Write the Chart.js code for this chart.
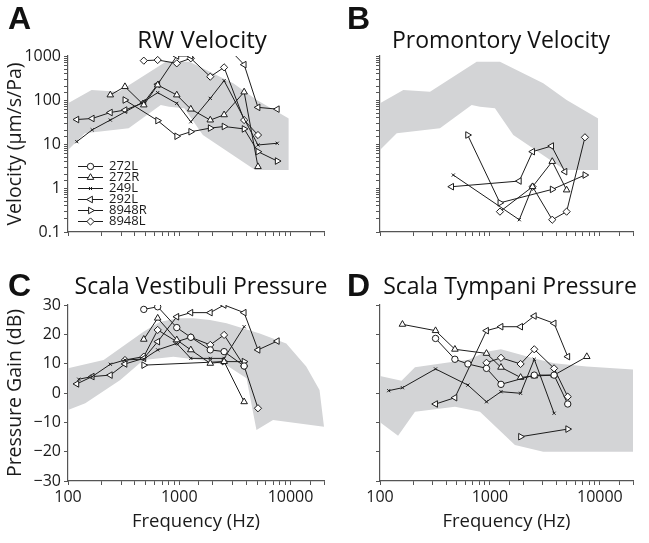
<!DOCTYPE html>
<html><head><meta charset="utf-8">
<script src="https://cdn.jsdelivr.net/npm/chart.js@4.4.1/dist/chart.umd.min.js"></script>
<style>
html,body{margin:0;padding:0;background:#fff;}
#wrap{position:relative;width:649px;height:543px;overflow:hidden;background:#fff;}
canvas{position:absolute;}
.lt{position:absolute;font-family:"Liberation Sans",Arial,sans-serif;font-weight:bold;font-size:32px;line-height:1;color:#111;}
.tt{position:absolute;font-family:"Open Sans",sans-serif;font-size:23px;line-height:1;color:#111;transform:translate(-50%,-50%);white-space:nowrap;}
</style></head>
<body><div id="wrap">
<canvas id="cA" width="345" height="245" style="left:0;top:0"></canvas>
<canvas id="cB" width="304" height="245" style="left:345px;top:0"></canvas>
<canvas id="cC" width="345" height="293" style="left:0;top:250px"></canvas>
<canvas id="cD" width="304" height="293" style="left:345px;top:250px"></canvas>
<div class="lt" style="left:8px;top:2px">A</div>
<div class="lt" style="left:347px;top:2px">B</div>
<div class="lt" style="left:8px;top:269px">C</div>
<div class="lt" style="left:347px;top:269px">D</div>
<div class="tt" style="left:202px;top:39px;font-size:24px">RW Velocity</div>
<div class="tt" style="left:501px;top:39px">Promontory Velocity</div>
<div class="tt" style="left:201px;top:285px">Scala Vestibuli Pressure</div>
<div class="tt" style="left:510px;top:285px">Scala Tympani Pressure</div>
</div>
<script>
// ---------- data: [frequency Hz, value] ----------
const seriesNames = ['272L','272R','249L','292L','8948R','8948L'];
const freqTickLabels = [100, 1000, 10000];
const dbTicks = [-30, -20, -10, 0, 10, 20, 30];

// velocity band (shared by RW and promontory panels), µm/s/Pa
const velBandUpper = [[100,84],[163,169],[285,155],[757,741],[1233,741],[3053,240],[4980,100],[9650,38]];
const velBandLower = [[100,7.3],[142,17.5],[351,22.8],[682,77],[811,70],[1110,65],[1630,16],[4808,2.56],[9650,2.56]];

// A: RW velocity
const rw_272L = [];
const rw_272R = [[240,130],[325,201],[480,77],[640,219],[950,130],[1270,62],[1900,35],[2530,46],[3830,152],[5100,3.05]];
const rw_249L = [[120,11.3],[165,21],[240,35],[480,92],[640,147],[950,84],[1270,32],[1900,109],[2530,275],[5100,9.5],[7600,10.4]];
const rw_292L = [[120,36],[165,38],[240,52],[325,59],[480,87],[640,227],[950,1000],[1270,1000],[1900,1233],[2530,1874],[3830,636],[5100,68],[7600,62]];
const rw_8948R = [[325,100],[640,34],[950,15],[1270,19],[1900,23],[2530,25],[3830,22],[5100,6.7],[7600,4.1]];
const rw_8948L = [[480,783],[640,811],[950,681],[1270,885],[1900,339],[2530,552],[3830,35],[5100,16]];

// B: promontory velocity
const pv_272L = [];
const pv_272R = [[2442,1.07],[3686,4.0],[4980,0.9]];
const pv_249L = [[464,1.97],[1848,0.19],[2442,1.07]];
const pv_292L = [[448,1.07],[1848,1.44],[2442,6.7],[3635,9.0],[4806,2.35]];
const pv_8948R = [[627,16],[1233,0.46],[3686,0.93],[7310,1.97]];
const pv_8948L = [[1233,0.29],[2442,1.07],[3686,0.19],[4980,0.29],[7310,14.2]];

// C: scala vestibuli pressure gain, dB
const svBandUpper = [[100,8.4],[209,11.25],[477,20.9],[673,24.3],[982,25.5],[1337,25.5],[1886,24.9],[2662,23.8],[5290,20.3],[9161,16.9],[13840,9.0],[18230,1.0],[20000,-11.5]];
const svBandLower = [[100,-5.8],[143,-3.5],[295,4.4],[477,11.25],[886,12.4],[1535,11.25],[2662,9.5],[4021,5.0],[4943,-12.6],[6962,-9.2],[20000,-11.5]];
const sv_272L = [[480,28.5],[640,29.4],[950,22.3],[1270,19.0],[1900,14.7],[2530,14.1],[3830,9.2]];
const sv_272R = [[480,18.3],[640,25.5],[950,18.1],[1270,14.7],[1900,10.1],[2530,10.7],[3830,-3.0]];
const sv_249L = [[125,4.7],[165,5.6],[240,9.8],[325,11.25],[480,11.6],[640,14.7],[950,16.9],[1270,11.8],[1900,11.8],[2530,11.8],[3830,22.6]];
const sv_292L = [[120,3.1],[165,5.6],[240,6.1],[325,9.9],[480,11.8],[640,17.5],[950,26.0],[1270,27.4],[1900,27.4],[2530,30],[3830,27.4],[5100,14.7],[7600,17.7]];
const sv_8948R = [[480,9.5],[2530,10.7],[3830,10.7]];
const sv_8948L = [[325,11.25],[480,12.4],[640,21.5],[950,17.5],[1270,19.0],[1900,16.4],[2530,19.8],[3830,9.2],[5100,-5.2]];

// D: scala tympani pressure gain, dB
const stBandUpper = [[100,5.8],[157,4.2],[208,8.75],[481,10.7],[627,11.25],[933,14.1],[1259,14.9],[1912,13.0],[2528,11.8],[3845,10.1],[7570,9.0],[20000,8.0]];
const stBandLower = [[100,-10],[146,-14.6],[208,-6.4],[481,-4.7],[811,-6.4],[1687,-17.7],[3053,-20],[20000,-20]];
const st_272L = [[320,18.6],[480,11.5],[630,9.9],[930,8.4],[1260,2.95],[2530,6.1],[3830,6.1],[5100,-3.75]];
const st_272R = [[160,23.4],[320,21.25],[480,14.9],[930,13.5],[1260,8.75],[1900,5.3],[2530,5.8],[3830,6.1],[7600,12.4]];
const st_249L = [[120,0.8],[160,1.8],[320,8.2],[630,2.7],[930,-3.0],[1260,0.45],[1900,-0.1],[2530,11.5],[3830,-6.9]];
const st_292L = [[320,-3.75],[480,-1.6],[930,21.25],[1260,22.6],[1900,22.6],[2530,26.25],[3830,23.75],[5100,12.4]];
const st_8948R = [[1900,-14.9],[5100,-12.3]];
const st_8948L = [[930,10.3],[1260,12.0],[1900,9.9],[2530,14.9],[3830,8.4],[5100,-1.25]];

// ---------- styling ----------
const LINE = '#1c1c1c';
const AXIS = '#555555';
const TXT = '#1a1a1a';
const BAND = '#d3d4d6';
const FONT = '"Open Sans", "Noto Sans", sans-serif';
const STYLE = {
  '272L': {pointStyle:'circle', rotation:0, radius:3.2},
  '272R': {pointStyle:'triangle', rotation:0, radius:3.8},
  '249L': {pointStyle:'crossRot', rotation:0, radius:2.2},
  '292L': {pointStyle:'triangle', rotation:-90, radius:3.8},
  '8948R': {pointStyle:'triangle', rotation:90, radius:3.8},
  '8948L': {pointStyle:'rectRot', rotation:0, radius:3.6}
};
const toXY = arr => arr.map(p => ({x:p[0], y:p[1]}));

function seriesDS(name, pairs) {
  const s = STYLE[name];
  return {label:name, data:toXY(pairs), borderColor:LINE, borderWidth:1,
    pointStyle:s.pointStyle, pointRotation:s.rotation, pointRadius:s.radius, pointHoverRadius:s.radius,
    pointBackgroundColor:'#fff', pointBorderColor:LINE, pointBorderWidth:1, fill:false, tension:0, order:0};
}
function bandDS(upper, lower) {
  return [
    {label:'band-upper', data:toXY(upper), borderColor:'rgba(0,0,0,0)', borderWidth:1, pointRadius:0, fill:false, tension:0, order:10},
    {label:'band-lower', data:toXY(lower), borderColor:'rgba(0,0,0,0)', borderWidth:1, pointRadius:0, fill:'-1', backgroundColor:BAND, tension:0, order:10}
  ];
}
const isDecade = v => { const l = Math.log10(v); return Math.abs(l - Math.round(l)) < 1e-6; };

function xScale(showLabels, title, h) {
  return {
    type:'logarithmic', min:100, max:20000,
    border:{display:true, color:AXIS, width:1.2},
    grid:{display:true, drawOnChartArea:false, drawTicks:true, tickLength:4, color:AXIS, tickColor:AXIS},
    ticks:{autoSkip:false, maxRotation:0, minRotation:0, padding:3, color:TXT, font:{family:FONT, size:16},
      callback:(v) => (showLabels && freqTickLabels.some(t => Math.abs(t - v) < 1e-6)) ? String(Math.round(v)) : ''},
    title: title ? {display:true, text:title, color:TXT, font:{family:FONT, size:18.5}, padding:{top:0, bottom:0}} : {display:false},
    afterFit:(s) => { s.height = h; }
  };
}
function yLogScale(showLabels, title, w) {
  return {
    type:'logarithmic', min:0.1, max:1000,
    border:{display:true, color:AXIS, width:1.2},
    grid:{display:true, drawOnChartArea:false, drawTicks:true, tickLength:4, color:AXIS, tickColor:AXIS},
    ticks:{autoSkip:false, padding:3, color:TXT, font:{family:FONT, size:16},
      callback:(v) => (showLabels && isDecade(v)) ? String(Number(v.toPrecision(6))) : ''},
    title: title ? {display:true, text:title, color:TXT, font:{family:FONT, size:19.5}, padding:{top:4, bottom:0}} : {display:false},
    afterFit:(s) => { s.width = w; }
  };
}
function yDbScale(showLabels, title, w) {
  return {
    type:'linear', min:-30, max:30,
    border:{display:true, color:AXIS, width:1.2},
    grid:{display:true, drawOnChartArea:false, drawTicks:true, tickLength:4, color:AXIS, tickColor:AXIS},
    ticks:{stepSize:10, autoSkip:false, padding:3, color:TXT, font:{family:FONT, size:16},
      callback:(v) => showLabels && dbTicks.includes(v) ? String(v).replace('-', '\u2212') : ''},
    title: title ? {display:true, text:title, color:TXT, font:{family:FONT, size:19.5}, padding:{top:4, bottom:0}} : {display:false},
    afterFit:(s) => { s.width = w; }
  };
}

const legendPlugin = {
  id:'sampleLegend',
  afterDatasetsDraw(chart) {
    const ctx = chart.ctx, a = chart.chartArea;
    ctx.save();
    seriesNames.forEach((name, i) => {
      const s = STYLE[name];
      const y = a.top + 110.5 + i * 11;
      const x0 = a.left + 10, x1 = a.left + 35;
      ctx.strokeStyle = LINE; ctx.lineWidth = 1;
      ctx.beginPath(); ctx.moveTo(x0, y); ctx.lineTo(x1, y); ctx.stroke();
      ctx.fillStyle = '#fff'; ctx.strokeStyle = LINE; ctx.lineWidth = 1;
      Chart.helpers.drawPoint(ctx, {pointStyle:s.pointStyle, rotation:s.rotation, radius:s.radius, borderWidth:1}, (x0 + x1) / 2, y);
      ctx.fillStyle = TXT; ctx.font = '13px ' + FONT; ctx.textBaseline = 'middle'; ctx.textAlign = 'left';
      ctx.fillText(name, a.left + 41, y);
    });
    ctx.restore();
  }
};

function makeChart(id, band, series, scales, padding, extraPlugins) {
  const datasets = bandDS(band[0], band[1]).concat(series.map(s => seriesDS(s[0], s[1])));
  return new Chart(document.getElementById(id), {
    type:'line',
    data:{datasets},
    options:{
      responsive:false, animation:false, events:[],
      layout:{padding},
      plugins:{legend:{display:false}, tooltip:{enabled:false}, title:{display:false}},
      scales
    },
    plugins: extraPlugins || []
  });
}

makeChart('cA', [velBandUpper, velBandLower],
  [['272L',rw_272L],['272R',rw_272R],['249L',rw_249L],['292L',rw_292L],['8948R',rw_8948R],['8948L',rw_8948L]],
  {x:xScale(false, null, 13), y:yLogScale(true, 'Velocity (\u00b5m/s/Pa)', 68)},
  {top:56, right:21, bottom:0, left:0}, [legendPlugin]);

makeChart('cB', [velBandUpper, velBandLower],
  [['272L',pv_272L],['272R',pv_272R],['249L',pv_249L],['292L',pv_292L],['8948R',pv_8948R],['8948L',pv_8948L]],
  {x:xScale(false, null, 13), y:yLogScale(false, null, 35)},
  {top:56, right:16, bottom:0, left:0});

makeChart('cC', [svBandUpper, svBandLower],
  [['272L',sv_272L],['272R',sv_272R],['249L',sv_249L],['292L',sv_292L],['8948R',sv_8948R],['8948L',sv_8948L]],
  {x:xScale(true, 'Frequency (Hz)', 52), y:yDbScale(true, 'Pressure Gain (dB)', 68)},
  {top:55, right:21, bottom:10, left:0});

makeChart('cD', [stBandUpper, stBandLower],
  [['272L',st_272L],['272R',st_272R],['249L',st_249L],['292L',st_292L],['8948R',st_8948R],['8948L',st_8948L]],
  {x:xScale(true, 'Frequency (Hz)', 52), y:yDbScale(false, null, 35)},
  {top:55, right:16, bottom:10, left:0});
</script>
</body></html>
